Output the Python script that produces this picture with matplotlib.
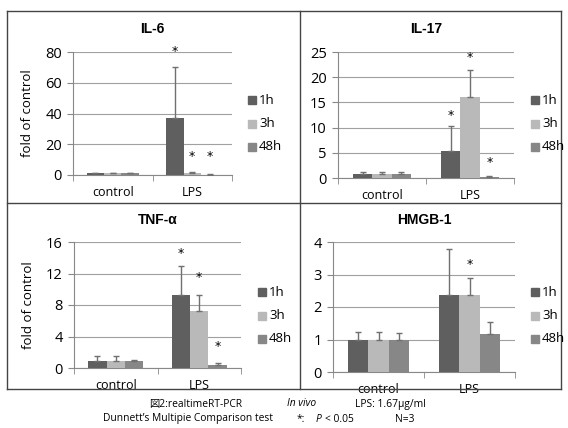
import matplotlib
matplotlib.use("Agg")
import matplotlib.pyplot as plt
from matplotlib.lines import Line2D
import numpy as np

categories = ["control", "LPS"]
series = ["1h", "3h", "48h"]
colors = ["#5f5f5f", "#b9b9b9", "#878787"]

panels = ["IL-6", "IL-17", "TNF-α", "HMGB-1"]
values = {
    "IL-6":   [[1.0, 37.0], [1.0, 1.6], [1.0, 0.3]],
    "IL-17":  [[0.8, 5.4], [0.8, 16.0], [0.8, 0.2]],
    "TNF-α":  [[0.9, 9.3], [0.9, 7.2], [0.9, 0.4]],
    "HMGB-1": [[1.0, 2.37], [1.0, 2.37], [1.0, 1.17]],
}
errors = {
    "IL-6":   [[0.2, 33.0], [0.2, 0.3], [0.2, 0.1]],
    "IL-17":  [[0.3, 4.9], [0.3, 5.4], [0.4, 0.2]],
    "TNF-α":  [[0.6, 3.6], [0.6, 2.1], [0.15, 0.2]],
    "HMGB-1": [[0.22, 1.43], [0.22, 0.53], [0.2, 0.36]],
}
stars = {
    "IL-6":   [80, 12, 12],
    "IL-17":  [12.5, 24, 3.0],
    "TNF-α":  [14.5, 11.5, 2.7],
    "HMGB-1": [None, 3.3, None],
}
yticks = {
    "IL-6": [0, 20, 40, 60, 80],
    "IL-17": [0, 5, 10, 15, 20, 25],
    "TNF-α": [0, 4, 8, 12, 16],
    "HMGB-1": [0, 1, 2, 3, 4],
}

W, H = 568, 428
fig = plt.figure(figsize=(W / 100, H / 100), dpi=100)

def px(x0, y0, x1, y1):
    return [x0 / W, 1 - y1 / H, (x1 - x0) / W, (y1 - y0) / H]

# axes rectangles in pixel coords (left, top, right, bottom)
rects = {
    "IL-6": (73, 52, 232, 175),
    "IL-17": (338, 52, 514, 178),
    "TNF-α": (74, 242, 241, 368),
    "HMGB-1": (333, 242, 515, 372),
}
title_y = {"IL-6": 29, "IL-17": 29, "TNF-α": 220, "HMGB-1": 220}
legend_x = {"IL-6": 248, "IL-17": 531, "TNF-α": 258, "HMGB-1": 531}

lab_font = "Open Sans"
bw = 0.22
for name in panels:
    x0, y0, x1, y1 = rects[name]
    ax = fig.add_axes(px(x0, y0, x1, y1))
    ymax = yticks[name][-1]
    x = np.arange(len(categories))
    for i, s in enumerate(series):
        pos = x + (i - 1) * bw
        ax.bar(pos, values[name][i], bw, color=colors[i], zorder=3, label=s)
        ax.errorbar(pos, values[name][i], yerr=[[0, 0], errors[name][i]],
                    fmt="none", ecolor="#707070", elinewidth=1, capsize=2.5,
                    capthick=1, zorder=4)
        for j, sy in enumerate([None, stars[name][i]]):
            if sy is not None:
                ax.text(pos[j], sy, "*", ha="center", va="center", fontsize=9,
                        zorder=5)
    ax.set_xlim(-0.5, 1.5)
    ax.set_ylim(0, ymax)
    ax.set_yticks(yticks[name])
    ax.set_yticklabels([str(t) for t in yticks[name]], fontsize=10.5,
                       family=lab_font)
    ax.set_xticks([0, 1])
    ax.set_xticklabels(categories, fontsize=9, family=lab_font)
    ax.set_xticks([-0.5, 0.5, 1.5], minor=True)
    ax.tick_params(axis="x", which="major", length=0, pad=8)
    ax.tick_params(axis="x", which="minor", length=4, color="#888888")
    ax.tick_params(axis="y", length=4, color="#888888", pad=4)
    ax.grid(axis="y", color="#a0a0a0", linewidth=0.8, zorder=0)
    for sp in ["top", "right"]:
        ax.spines[sp].set_visible(False)
    for sp in ["left", "bottom"]:
        ax.spines[sp].set_color("#888888")
        ax.spines[sp].set_linewidth(0.8)
    if name in ("IL-6", "TNF-α"):
        ax.set_ylabel("fold of control", fontsize=9.5, family=lab_font,
                      labelpad=8)
    fig.text(((x0 + x1) / 2 + 0) / W, 1 - title_y[name] / H, name,
             ha="center", va="center", fontsize=10, fontweight="bold",
             family="Liberation Sans")
    # legend
    lx = legend_x[name]
    ly0 = 100 if y0 < 200 else 292
    for i, s in enumerate(series):
        yy = ly0 + i * 23.5
        fig.patches.append(plt.Rectangle(((lx) / W, 1 - (yy + 4) / H), 8 / W,
                                         8 / H, color=colors[i],
                                         transform=fig.transFigure,
                                         figure=fig))
        fig.text((lx + 11) / W, 1 - yy / H, s, ha="left", va="center",
                 fontsize=9.5, family=lab_font)

# frame lines
line_kw = dict(color="#444444", linewidth=1.0, transform=fig.transFigure)
L, R, T, B = 7 / W, 561 / W, 1 - 11 / H, 1 - 389 / H
fig.add_artist(Line2D([L, R], [T, T], **line_kw))
fig.add_artist(Line2D([L, R], [B, B], **line_kw))
fig.add_artist(Line2D([L, L], [T, B], **line_kw))
fig.add_artist(Line2D([R, R], [T, B], **line_kw))
fig.add_artist(Line2D([300 / W, 300 / W], [T, B], **line_kw))
fig.add_artist(Line2D([L, R], [1 - 203 / H, 1 - 203 / H], **line_kw))

cap_fam = ["Open Sans", "Noto Sans CJK JP", "DejaVu Sans"]
cs = 7.4
fig.text(149 / W, 1 - 404 / H, "図2:realtimeRT-PCR", fontsize=cs,
         family=cap_fam, va="center")
fig.text(287 / W, 1 - 404 / H, "In vivo", fontsize=cs, family=cap_fam,
         va="center", style="italic")
fig.text(355 / W, 1 - 404 / H, "LPS: 1.67μg/ml", fontsize=cs,
         family=cap_fam, va="center")
fig.text(103 / W, 1 - 419 / H, "Dunnett’s Multipie Comparison test", fontsize=cs,
         family=cap_fam, va="center")
fig.text(297 / W, 1 - 419 / H, "*:", fontsize=cs, family=cap_fam,
         va="center")
fig.text(316 / W, 1 - 419 / H, "P", fontsize=cs, family=cap_fam,
         va="center", style="italic")
fig.text(325 / W, 1 - 419 / H, "< 0.05", fontsize=cs, family=cap_fam,
         va="center")
fig.text(395 / W, 1 - 419 / H, "N=3", fontsize=cs, family=cap_fam,
         va="center")

fig.savefig("out.png", dpi=100, facecolor="white")
